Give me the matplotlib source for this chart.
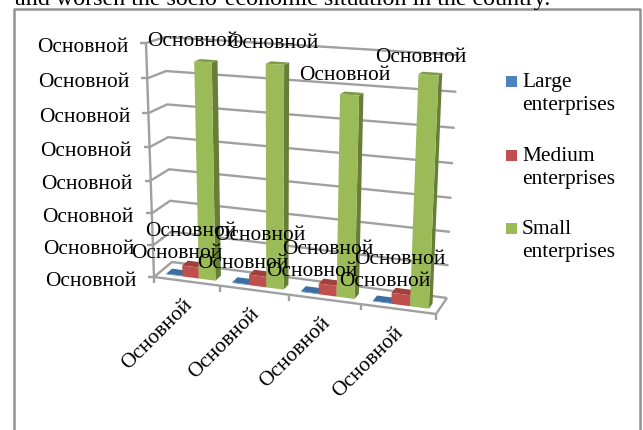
"""3D-style clustered bars of enterprise size groups, drawn as projected polygons."""

import matplotlib
matplotlib.use('Agg')
import matplotlib.pyplot as plt

plt.rcParams['font.family'] = ['Liberation Serif', 'DejaVu Serif']

series_names = ['Large\nenterprises', 'Medium\nenterprises', 'Small\nenterprises']
large_values = [0.02, 0.02, 0.02, 0.02]
medium_values = [0.35, 0.33, 0.33, 0.33]
small_values = [6.52, 6.59, 5.89, 6.58]
axis_label = 'Основной'
value_ticks = [0, 1, 2, 3, 4, 5, 6, 7]
category_ticks = [0, 1, 2, 3, 4]

COLORS = {
    'large': ('#4F81BD', '#3A6496', '#3E6FA3'),
    'medium': ('#C0504D', '#8E3B39', '#A0403D'),
    'small': ('#9BBB59', '#667F37', '#7F9A48'),
}
GRID = '#A0A0A0'
FONT = 15.4

# corners of the plot box on the canvas: (category end, depth end, top or bottom)
CORNERS = {
    (0, 0, 0): (154, 277), (1, 0, 0): (436, 314),
    (0, 1, 0): (172, 262), (1, 1, 0): (447, 298),
    (0, 0, 1): (146, 43), (1, 0, 1): (447, 62),
    (0, 1, 1): (165, 37), (1, 1, 1): (458, 55),
}


def foreshorten(t, k):
    return t / (t + k * (1 - t))


def project(c, d, v):
    """Turn category position, depth (0-1) and value into canvas coordinates."""
    a = foreshorten(c / 4, 1.09)
    b = foreshorten(v / 7, 1.07)
    x = y = 0
    for (i, j, m), (px, py) in CORNERS.items():
        w = (a if i else 1 - a) * (d if j else 1 - d) * (b if m else 1 - b)
        x += w * px
        y += w * py
    return x, y


def draw_line(ax, points, lw=1.7, zorder=2):
    ax.plot([p[0] for p in points], [p[1] for p in points], color=GRID, lw=lw,
            solid_capstyle='butt', zorder=zorder)


def draw_bar(ax, c0, c1, value, colors, zorder):
    front, side, top = colors
    d0, d1 = 0.25, 0.58
    ax.fill(*zip(project(c1, d0, 0), project(c1, d1, 0), project(c1, d1, value), project(c1, d0, value)),
            color=side, lw=0, zorder=zorder)
    ax.fill(*zip(project(c0, d0, value), project(c1, d0, value), project(c1, d1, value), project(c0, d1, value)),
            color=top, lw=0, zorder=zorder)
    ax.fill(*zip(project(c0, d0, 0), project(c1, d0, 0), project(c1, d0, value), project(c0, d0, value)),
            color=front, lw=0, zorder=zorder)


fig = plt.figure(figsize=(6.43, 4.30), dpi=100)
ax = fig.add_axes([0, 0, 1, 1])
ax.set_xlim(0, 643)
ax.set_ylim(430, 0)
ax.axis('off')

ax.text(15, 5, 'and worsen the socio-economic situation in the country.', fontsize=17.3,
        ha='left', va='baseline')

# outer frame, open at the bottom
ax.plot([14, 14, 640, 640], [430, 8.5, 8.5, 430], color='#929292', lw=1.8, zorder=1)

# walls and floor
for v in value_ticks:
    draw_line(ax, [project(0, 0, v), project(0, 1, v), project(4, 1, v)])
    tick = project(0, 0, v)
    draw_line(ax, [(tick[0] - 6, tick[1]), tick])
    ax.text(tick[0] - 18, tick[1] + 4, axis_label, fontsize=FONT, ha='right', va='center', zorder=6)
draw_line(ax, [project(0, 0, 0), project(0, 0, 7)])
draw_line(ax, [project(0, 0, 0), project(4, 0, 0), project(4, 1, 0)])

for c in category_ticks:
    x, y = project(c, 0, 0)
    draw_line(ax, [(x, y), (x, y + 6)])

# bars, back to front inside each group
for i in range(4):
    draw_bar(ax, i + 0.12, i + 0.37, large_values[i], COLORS['large'], 3)
    draw_bar(ax, i + 0.37, i + 0.62, medium_values[i], COLORS['medium'], 4)
    draw_bar(ax, i + 0.62, i + 0.87, small_values[i], COLORS['small'], 5)

# data labels
small_label_xy = [(193, 42), (273, 43), (345, 76), (421, 57)]
medium_label_xy = [(191, 231), (260, 235), (328, 250), (400, 259)]
large_label_xy = [(177, 254), (243, 263), (312, 271), (385, 281)]
for xy in small_label_xy + medium_label_xy + large_label_xy:
    ax.text(xy[0], xy[1], axis_label, fontsize=FONT, ha='center', va='center', zorder=7)

# category labels
category_label_xy = [(157, 335), (224, 344), (295, 353), (368, 363)]
for xy in category_label_xy:
    ax.text(xy[0], xy[1], axis_label, fontsize=FONT, rotation=45, ha='center', va='center',
            rotation_mode='anchor', zorder=6)

# legend
legend_y = [76, 150, 223]
for name, key, y in zip(series_names, ['large', 'medium', 'small'], legend_y):
    ax.fill([506, 517, 517, 506], [y, y, y + 11, y + 11], color=COLORS[key][0], lw=0)
    ax.text(522, y - 3, name, fontsize=FONT, ha='left', va='top', linespacing=1.27)

fig.savefig('out.png', dpi=100)
